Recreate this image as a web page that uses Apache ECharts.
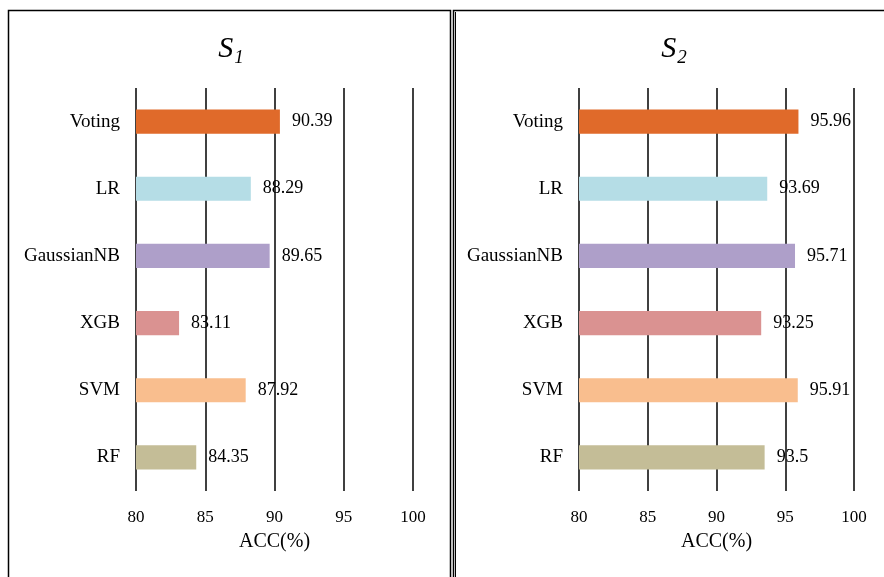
<!DOCTYPE html>
<html>
<head>
<meta charset="utf-8">
<script src="https://cdn.jsdelivr.net/npm/echarts@6/dist/echarts.min.js"></script>
<style>
  html, body { margin: 0; padding: 0; background: #fff; }
  #chart { width: 884px; height: 577px; }
</style>
</head>
<body>
<div id="chart"></div>
<script>
const models = ["Voting", "LR", "GaussianNB", "XGB", "SVM", "RF"];
const barColors = ["#E06A2A", "#B5DDE6", "#AE9FC9", "#DA9291", "#F9BE8E", "#C4BD97"];
const accS1 = [90.39, 88.29, 89.65, 83.11, 87.92, 84.35];
const accS2 = [95.96, 93.69, 95.71, 93.25, 95.91, 93.5];
const panelTitles = ["1", "2"];
const xTicks = [80, 85, 90, 95, 100];

const serif = "'Liberation Serif', 'Times New Roman', serif";
const chart = echarts.init(document.getElementById("chart"));

const grids = [
    { left: 136, right: 471, top: 88, bottom: 86 },
    { left: 579, right: 30, top: 88, bottom: 86 }
];

const makeX = (i) => ({
    type: "value",
    gridIndex: i,
    min: xTicks[0],
    max: xTicks[xTicks.length - 1],
    interval: 5,
    name: "ACC(%)",
    nameLocation: "middle",
    nameGap: 41,
    nameTextStyle: { fontFamily: serif, fontSize: 20, color: "#000" },
    axisLine: { show: false },
    axisTick: { show: false },
    axisLabel: { fontFamily: serif, fontSize: 17, color: "#000", margin: 18 },
    splitLine: { show: true, lineStyle: { color: "#000", width: 1.5 } }
});

const makeY = (i) => ({
    type: "category",
    gridIndex: i,
    data: models,
    inverse: true,
    axisLine: { show: false },
    axisTick: { show: false },
    axisLabel: { fontFamily: serif, fontSize: 19, color: "#000", margin: 16 },
    splitLine: { show: false }
});

const makeSeries = (i, values) => ({
    type: "bar",
    xAxisIndex: i,
    yAxisIndex: i,
    barWidth: "36%",
    data: values.map((v, k) => ({ value: v, itemStyle: { color: barColors[k] } })),
    label: {
        show: true,
        position: "right",
        distance: 12,
        fontFamily: serif,
        fontSize: 18,
        color: "#000"
    }
});

const option = {
    backgroundColor: "#fff",
    animation: false,
    title: panelTitles.map((t, i) => ({
        text: "{s|S}{sub|" + t + "}",
        left: i === 0 ? 226 : 669,
        top: 27,
        textAlign: "center",
        textStyle: {
            fontWeight: "normal",
            rich: {
                s: { fontFamily: serif, fontStyle: "italic", fontWeight: "normal", fontSize: 30, color: "#000", lineHeight: 34 },
                sub: { fontFamily: serif, fontStyle: "italic", fontWeight: "normal", fontSize: 19, color: "#000", padding: [16, 0, 0, 1] }
            }
        }
    })),
    graphic: [
        { type: "rect", shape: { x: 8.5, y: 10.5, width: 442, height: 600 },
          style: { fill: null, stroke: "#000", lineWidth: 1.5 } },
        { type: "rect", shape: { x: 453.5, y: 10.5, width: 440, height: 600 },
          style: { fill: null, stroke: "#000", lineWidth: 1.5 } },
        { type: "line", shape: { x1: 455.5, y1: 12, x2: 455.5, y2: 600 },
          style: { stroke: "#000", lineWidth: 1 } }
    ],
    grid: grids,
    xAxis: [makeX(0), makeX(1)],
    yAxis: [makeY(0), makeY(1)],
    series: [makeSeries(0, accS1), makeSeries(1, accS2)]
};

chart.setOption(option);
</script>
</body>
</html>
